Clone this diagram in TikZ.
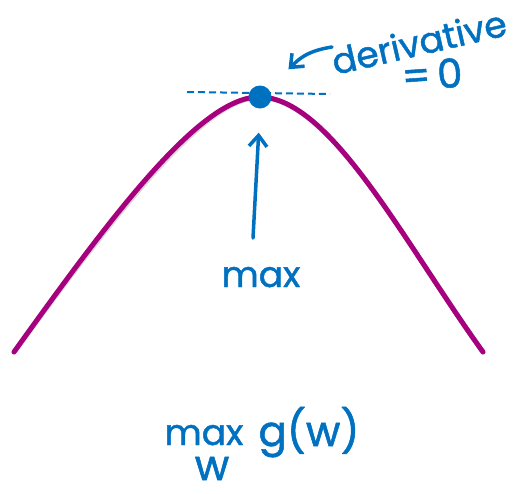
\documentclass[tikz,border=0pt]{standalone}
\usepackage{fontspec}
\setmainfont{Poppins}
\newfontfamily\handfont{Poppins}[FakeBold=1.3]
\usetikzlibrary{arrows.meta}
\definecolor{ink}{RGB}{0,112,192}
\definecolor{curvecol}{RGB}{166,0,126}
\begin{document}
\begin{tikzpicture}[x=1pt,y=-1pt,
  hand/.style={text=ink, font=\handfont\fontsize{36}{40}\selectfont, inner sep=0pt, anchor=base},
  inkline/.style={draw=ink, line width=3.5pt, line cap=round, line join=round},
  barb/.style={-{Straight Barb[length=11pt,width=18pt,line width=3.5pt]}},
  curvestyle/.style={draw=curvecol, line width=5pt, line cap=round},
  shadowstyle/.style={draw=black!15, line width=5pt, line cap=round}]
\useasboundingbox (0,0) rectangle (513,493);
% bell curve
\coordinate (cl) at (14,352);
\coordinate (ctop) at (259,97);
\coordinate (cr) at (483,352);
\begin{scope}[xshift=1.5pt, yshift=-2pt]
\draw[shadowstyle] (cl) .. controls (110,218) and (200,97) .. (ctop)
  .. controls (330,97) and (403,241) .. (cr);
\end{scope}
\draw[curvestyle] (cl) .. controls (110,218) and (200,97) .. (ctop)
  .. controls (330,97) and (403,241) .. (cr);
% tangent line
\coordinate (tl) at (187,92);
\coordinate (tr) at (330,94);
\draw[ink, line width=2pt, dash pattern=on 7pt off 4pt] (tl) -- (tr);
% maximum point
\node[circle, fill=ink, minimum size=23pt, inner sep=0pt] (dot) at (260,97) {};
% labels
\node[hand, rotate=13] (deriv) at (422,55) {derivative};
\node[hand, font=\handfont\fontsize{40}{44}\selectfont, rotate=4] (eqzero) at (433,89) {=\,0};
\node[hand] (maxlbl) at (261,287) {max};
\node[hand] (maxop) at (204,445) {max};
\node[hand, font=\handfont\fontsize{42}{46}\selectfont] (sub) at (212,480) {w};
\node[hand, font=\handfont\fontsize{42}{46}\selectfont] (gw) at (309,446) {g(w)};
% arrows
\coordinate (dstart) at (332,47);
\draw[inkline, barb, shorten >=28pt] (dstart) .. controls (306,51) and (298,60) .. (dot);
\coordinate (mstart) at (253,238);
\draw[inkline, barb, shorten >=24pt] (mstart) -- (dot.south);
\end{tikzpicture}
\end{document}
